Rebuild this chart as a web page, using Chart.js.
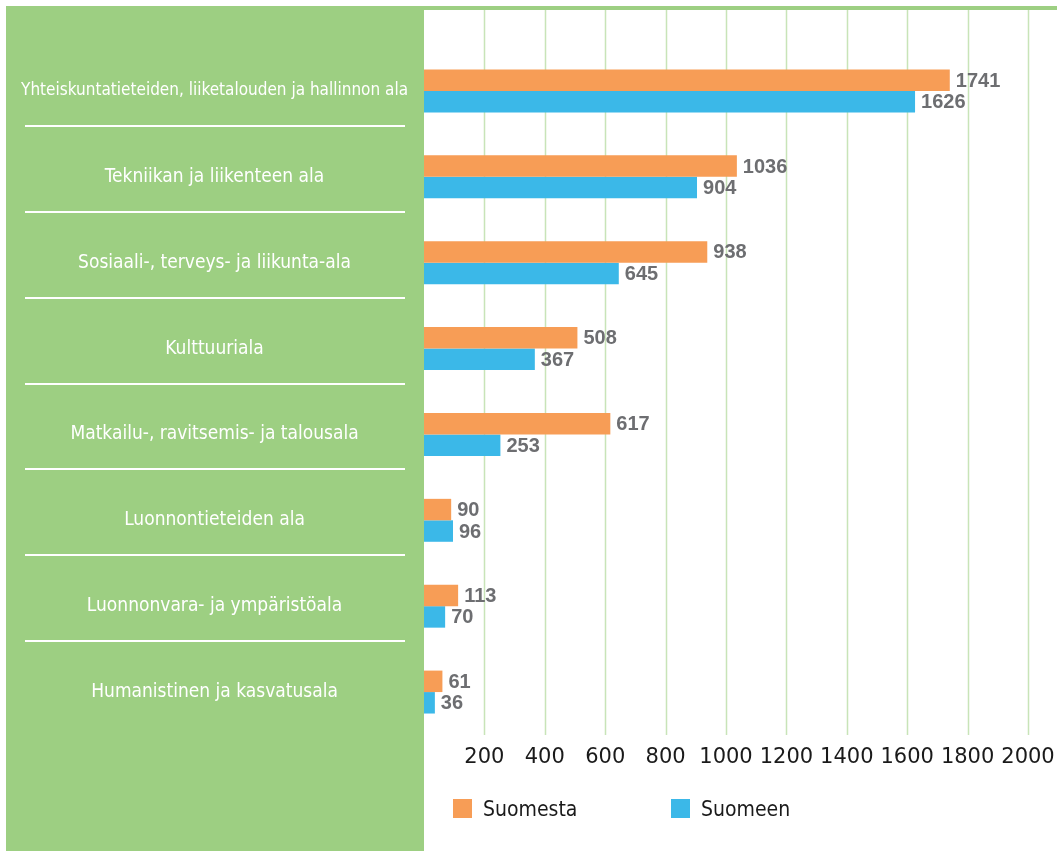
<!DOCTYPE html>
<html>
<head>
<meta charset="utf-8">
<script src="https://cdn.jsdelivr.net/npm/chart.js@4/dist/chart.umd.min.js"></script>
<style>
  body { margin: 0; background: #fff; }
  #wrap { position: relative; width: 1057px; height: 851px; }
  #legend { position: absolute; top: 795px; left: 0; font-family: 'DejaVu Sans Condensed', 'DejaVu Sans', sans-serif; font-size: 21px; color: #1a1a1a; }
  #legend .item { position: absolute; display: flex; align-items: center; white-space: nowrap; height: 27px; }
  #legend .box { width: 19px; height: 19px; margin-right: 11px; }
</style>
</head>
<body>
<div id="wrap">
  <canvas id="chart" width="1057" height="851"></canvas>
  <div id="legend"></div>
</div>
<script>
// DATA
const categories = [
    "Yhteiskuntatieteiden, liiketalouden ja hallinnon ala",
    "Tekniikan ja liikenteen ala",
    "Sosiaali-, terveys- ja liikunta-ala",
    "Kulttuuriala",
    "Matkailu-, ravitsemis- ja talousala",
    "Luonnontieteiden ala",
    "Luonnonvara- ja ympäristöala",
    "Humanistinen ja kasvatusala"
];
const suomesta = [1741, 1036, 938, 508, 617, 90, 113, 61];
const suomeen = [1626, 904, 645, 367, 253, 96, 70, 36];
const seriesNames = ["Suomesta", "Suomeen"];
const xMax = 2000;
const xStep = 200;

const ORANGE = "#F79D56";
const BLUE = "#3BB8E8";
const GREEN = "#9DCF82";
const GRID = "#C8E4B8";
const LABEL_FONT = "'DejaVu Sans Condensed', 'DejaVu Sans', sans-serif";

// green panel, top line, separators, grid
const backdrop = {
    id: "backdrop",
    beforeDraw(chart) {
        const c = chart.ctx;
        const area = chart.chartArea;
        c.save();
        c.fillStyle = "#fff";
        c.fillRect(0, 0, chart.width, chart.height);
        c.fillStyle = GREEN;
        c.fillRect(6, 6, area.left - 6, chart.height - 6);
        c.fillRect(6, 6, chart.width - 6, 4);

        // vertical grid lines
        const xs = chart.scales.x;
        c.strokeStyle = GRID;
        c.lineWidth = 1.5;
        xs.ticks.forEach(t => {
            if (t.value <= 0) return;
            const px = Math.round(xs.getPixelForValue(t.value)) + 0.5;
            c.beginPath();
            c.moveTo(px, 10);
            c.lineTo(px, area.bottom);
            c.stroke();
        });

        // white separators between categories
        const ys = chart.scales.y;
        c.strokeStyle = "#fff";
        c.lineWidth = 2;
        for (let i = 0; i < categories.length - 1; i++) {
            const y = Math.round(ys.getPixelForValue(i) + 35);
            c.beginPath();
            c.moveTo(25, y);
            c.lineTo(405, y);
            c.stroke();
        }
        c.restore();
    }
};

// value labels at bar ends
const valueLabels = {
    id: "valueLabels",
    afterDatasetsDraw(chart) {
        const c = chart.ctx;
        c.save();
        c.font = "bold 20px 'Liberation Sans', Arial, sans-serif";
        c.fillStyle = "#6D6E71";
        c.textAlign = "left";
        c.textBaseline = "middle";
        chart.data.datasets.forEach((ds, di) => {
            chart.getDatasetMeta(di).data.forEach((bar, i) => {
                c.fillText(ds.data[i], bar.x + 6, bar.y + 1);
            });
        });
        c.restore();
    }
};

const ctx = document.getElementById("chart").getContext("2d");

new Chart(ctx, {
    type: "bar",
    data: {
        labels: categories,
        datasets: [{
            label: seriesNames[0],
            data: suomesta,
            backgroundColor: ORANGE,
            barPercentage: 1,
            categoryPercentage: 0.5
        }, {
            label: seriesNames[1],
            data: suomeen,
            backgroundColor: BLUE,
            barPercentage: 1,
            categoryPercentage: 0.5
        }]
    },
    options: {
        indexAxis: "y",
        responsive: false,
        animation: false,
        layout: {
            padding: { left: 6, right: 29, top: 48, bottom: 76 }
        },
        scales: {
            x: {
                min: 0,
                max: xMax,
                grid: { display: false, drawTicks: false },
                border: { display: false },
                ticks: {
                    stepSize: xStep,
                    padding: 10,
                    color: "#1a1a1a",
                    font: { family: "'DejaVu Sans', sans-serif", size: 21 },
                    callback: v => v === 0 ? "" : v
                },
                afterFit(scale) {
                    scale.height = 40;
                    scale.paddingRight = 0;
                }
            },
            y: {
                grid: { display: false, drawTicks: false },
                border: { display: false },
                ticks: {
                    crossAlign: "center",
                    padding: 16,
                    color: "#fff",
                    // the long first label is squeezed a bit, like in the original
                    font: c => ({ family: LABEL_FONT, size: c.index === 0 ? 17 : 19 })
                },
                afterFit(scale) { scale.width = 418; }
            }
        },
        plugins: {
            legend: { display: false },
            tooltip: { enabled: false }
        }
    },
    plugins: [backdrop, valueLabels]
});

// LEGEND
const legend = document.getElementById("legend");
[[seriesNames[0], ORANGE, 453], [seriesNames[1], BLUE, 671]].forEach(([name, col, left]) => {
    const item = document.createElement("div");
    item.className = "item";
    item.style.left = left + "px";
    item.innerHTML = '<span class="box" style="background:' + col + '"></span>' + name;
    legend.appendChild(item);
});
</script>
</body>
</html>
